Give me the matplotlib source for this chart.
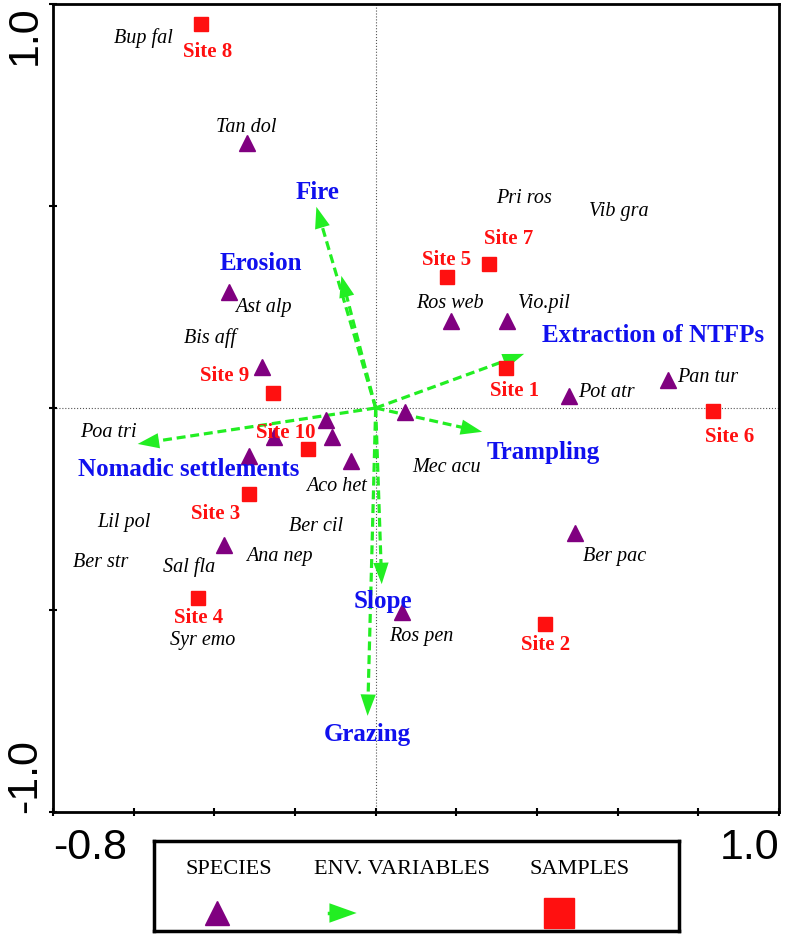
import numpy as np
import matplotlib
matplotlib.use('Agg')
import matplotlib.pyplot as plt

plt.rcParams['font.family'] = ['Liberation Serif', 'DejaVu Serif']

# sample scores (red squares)
site_names = ['Site 1', 'Site 2', 'Site 3', 'Site 4', 'Site 5',
              'Site 6', 'Site 7', 'Site 8', 'Site 9', 'Site 10']
site_x = [0.323, 0.420, -0.313, -0.440, 0.177, 0.836, 0.281, -0.433, -0.254, -0.169]
site_y = [0.099, -0.535, -0.213, -0.470, 0.324, -0.007, 0.356, 0.950, 0.037, -0.101]

# species scores (purple triangles)
spec_x = [-0.318, -0.363, -0.281, 0.187, 0.326, 0.480, 0.724, 0.072,
          0.493, 0.065, -0.122, -0.109, -0.062, -0.313, -0.251, -0.376]
spec_y = [0.656, 0.287, 0.101, 0.215, 0.215, 0.030, 0.069, -0.010,
          -0.309, -0.505, -0.030, -0.072, -0.131, -0.119, -0.072, -0.339]

# species names as placed on the diagram
spec_names = ['Bup fal', 'Tan dol', 'Pri ros', 'Vib gra', 'Ast alp', 'Ros web', 'Vio.pil',
              'Bis aff', 'Pan tur', 'Pot atr', 'Poa tri', 'Mec acu', 'Aco het', 'Lil pol',
              'Ber cil', 'Ber str', 'Sal fla', 'Ana nep', 'Ber pac', 'Ros pen', 'Syr emo']
spec_lab_x = [-0.575, -0.321, 0.368, 0.602, -0.279, 0.184, 0.418,
              -0.410, 0.823, 0.572, -0.662, 0.176, -0.097, -0.624,
              -0.147, -0.682, -0.463, -0.239, 0.592, 0.114, -0.428]
spec_lab_y = [0.918, 0.698, 0.522, 0.488, 0.250, 0.260, 0.260,
              0.176, 0.079, 0.042, -0.059, -0.146, -0.193, -0.280,
              -0.290, -0.381, -0.391, -0.366, -0.366, -0.562, -0.572]

# environmental variables (arrow tips)
env_names = ['Fire', 'Erosion', 'Extraction of NTFPs', 'Trampling',
             'Nomadic settlements', 'Slope', 'Grazing']
env_x = [-0.147, -0.085, 0.368, 0.264, -0.590, 0.015, -0.020]
env_y = [0.498, 0.327, 0.134, -0.059, -0.089, -0.436, -0.762]

x_ticks = [-0.8, -0.6, -0.4, -0.2, 0.0, 0.2, 0.4, 0.6, 0.8, 1.0]
x_tick_labels = ['-0.8', '', '', '', '', '', '', '', '', '1.0']
y_ticks = [-1.0, -0.5, 0.0, 0.5, 1.0]
y_tick_labels = ['-1.0', '', '', '', '1.0']

# label offsets in points
site_offsets = [(6, -16), (0, -14), (-24, -14), (0, -14), (0, 13),
                (12, -18), (14, 19), (5, -19), (-35, 13), (-16, 12)]
env_offsets = [(1, 11), (-58, 10), (93, 14), (44, -14), (37, -18), (1, -12), (0, -13)]

GREEN = '#22ee22'
PURPLE = '#800080'
RED = '#ff1010'
BLUE = '#1010ee'
HEAD = 'simple,head_length=0.7,head_width=0.5,tail_width=0.01'

fig = plt.figure(figsize=(7.87, 9.37), dpi=100)
ax = fig.add_axes([53 / 787, 1 - 813 / 937, 726 / 787, 808 / 937])

ax.axhline(0, color='#555555', lw=0.8, ls=':', zorder=1)
ax.axvline(0, color='#555555', lw=0.8, ls=':', zorder=1)

for x, y in zip(env_x, env_y):
    n = np.hypot(x, y)
    ux, uy = x / n, y / n
    # dashed shaft, stopping under the head
    ax.plot([0, x - 0.03 * ux], [0, y - 0.03 * uy], color=GREEN, lw=2.3,
            ls=(0, (2.8, 1.5)), zorder=3, solid_capstyle='butt')
    # solid filled head
    ax.annotate('', xy=(x, y), xytext=(x - 0.045 * ux, y - 0.045 * uy),
                arrowprops=dict(arrowstyle=HEAD, color=GREEN, lw=0,
                                shrinkA=0, shrinkB=0, mutation_scale=22),
                zorder=3)

ax.plot(spec_x, spec_y, ls='none', marker='^', ms=11, color=PURPLE, zorder=4)
ax.plot(site_x, site_y, ls='none', marker='s', ms=10.5, color=RED, zorder=4)

for name, x, y in zip(spec_names, spec_lab_x, spec_lab_y):
    ax.text(x, y, name, fontsize=14.5, style='italic', ha='center', va='center', zorder=5)

for name, x, y, off in zip(site_names, site_x, site_y, site_offsets):
    ax.annotate(name, xy=(x, y), xytext=off, textcoords='offset points',
                fontsize=15, fontweight='bold', color=RED, ha='center', va='center', zorder=5)

for name, x, y, off in zip(env_names, env_x, env_y, env_offsets):
    ax.annotate(name, xy=(x, y), xytext=off, textcoords='offset points',
                fontsize=18, fontweight='bold', color=BLUE, ha='center', va='center', zorder=5)

ax.set_xlim(-0.8, 1.0)
ax.set_ylim(-1.0, 1.0)
ax.set_xticks(x_ticks)
ax.set_xticklabels(x_tick_labels)
ax.set_yticks(y_ticks)
ax.set_yticklabels(y_tick_labels, rotation=90)
ax.tick_params(direction='inout', length=6, width=1.5, labelsize=31)
ax.tick_params(axis='x', pad=8)
ax.tick_params(axis='y', pad=3)
for lab in ax.get_xticklabels() + ax.get_yticklabels():
    lab.set_family(['Liberation Sans', 'DejaVu Sans'])
xl = ax.get_xticklabels()
xl[0].set_ha('left')
xl[-1].set_ha('right')
yl = ax.get_yticklabels()
yl[0].set_va('bottom')
yl[-1].set_va('top')
for s in ax.spines.values():
    s.set_linewidth(2)

# legend box
lg = fig.add_axes([154 / 787, 1 - 932 / 937, 525 / 787, 90 / 937])
lg.set_xlim(0, 1)
lg.set_ylim(0, 1)
lg.set_xticks([])
lg.set_yticks([])
for s in lg.spines.values():
    s.set_linewidth(2.5)
lg.text(0.143, 0.69, 'SPECIES', fontsize=16, ha='center', va='center')
lg.text(0.472, 0.69, 'ENV. VARIABLES', fontsize=16, ha='center', va='center')
lg.text(0.81, 0.69, 'SAMPLES', fontsize=16, ha='center', va='center')
lg.plot([0.12], [0.2], marker='^', ms=17, color=PURPLE, ls='none')
lg.plot([0.333, 0.36], [0.2, 0.2], color=GREEN, lw=2.5)
lg.annotate('', xy=(0.386, 0.2), xytext=(0.35, 0.2),
            arrowprops=dict(arrowstyle=HEAD, color=GREEN, lw=0,
                            shrinkA=0, shrinkB=0, mutation_scale=28))
lg.plot([0.771], [0.2], marker='s', ms=21, color=RED, ls='none')

fig.savefig('out.png', dpi=100)
